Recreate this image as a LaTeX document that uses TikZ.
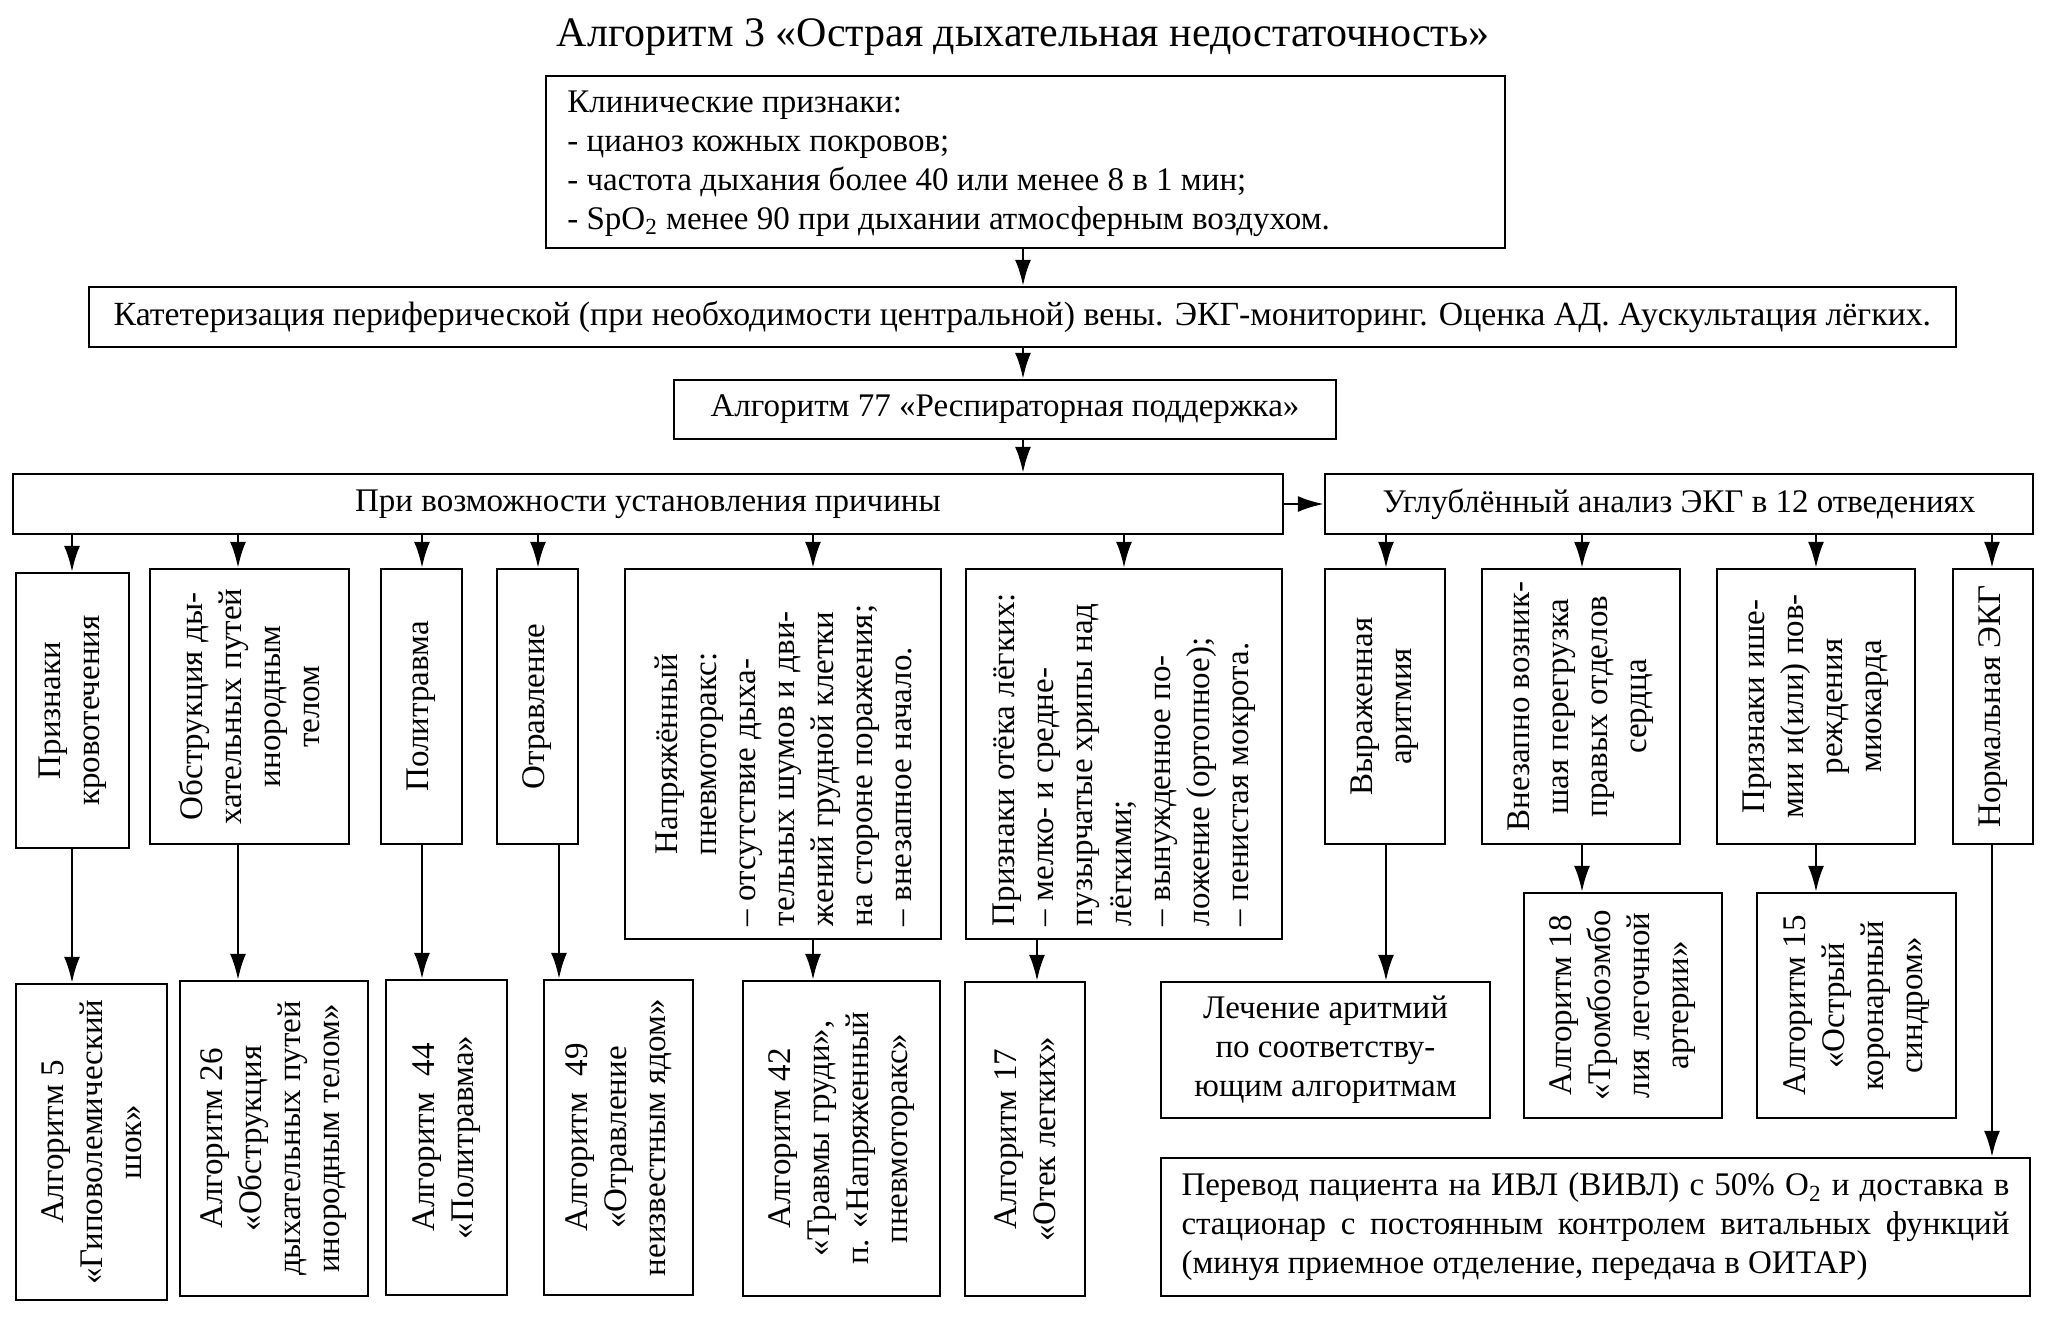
\documentclass[tikz,border=0pt]{standalone}
\usepackage{fontspec}
\setmainfont{Liberation Serif}
\usetikzlibrary{arrows.meta,fit}
\newcommand\bx[5]{\node[box,fit={(#2,#3) (#4,#5)}] (#1) {};}
\begin{document}
\begin{tikzpicture}[x=0.5pt,y=-0.5pt,
  box/.style={draw,line width=1.2pt,inner sep=0pt},
  txt/.style={font=\fontsize{16.5}{19.5}\selectfont, inner sep=0pt, align=center},
  vtxt/.style={txt, rotate=90},
  arr/.style={line width=1.2pt,-{Latex[length=13pt,width=8pt]}},
  ]
\useasboundingbox (0,0) rectangle (2047,1319);
\fill[white] (0,0) rectangle (2047,1319);

% title
\node[font=\fontsize{21}{25}\selectfont, inner sep=0pt] (title) at (1023,37) {Алгоритм 3 «Острая дыхательная недостаточность»};

% boxes
\bx{clin}{546}{76}{1505}{248}
\bx{cath}{89}{287}{1956}{347}
\bx{a77}{674}{380}{1336}{439}
\bx{pri}{13}{474}{1283}{534}
\bx{ugl}{1325}{474}{2033}{534}

\bx{krov}{16}{573}{129}{848}
\bx{obstr}{150}{569}{349}{844}
\bx{polit}{381}{569}{462}{844}
\bx{otrav}{497}{569}{578}{844}
\bx{pnev}{625}{569}{941}{939}
\bx{otek}{966}{569}{1282}{939}
\bx{aritm}{1325}{569}{1445}{844}
\bx{vnez}{1482}{569}{1680}{844}
\bx{ishem}{1717}{569}{1915}{844}
\bx{norm}{1953}{569}{2033}{844}

\bx{a5}{16}{984}{167}{1300}
\bx{a26}{180}{981}{368}{1296}
\bx{a44}{386}{980}{507}{1295}
\bx{a49}{544}{980}{693}{1295}
\bx{a42}{743}{981}{940}{1296}
\bx{a17}{965}{982}{1085}{1296}
\bx{lech}{1161}{982}{1490}{1118}
\bx{a18}{1524}{893}{1722}{1118}
\bx{a15}{1757}{893}{1956}{1118}
\bx{perevod}{1161}{1158}{2030}{1296}

% texts
\node[txt, align=left, anchor=west] (clin-t) at (567,164) {Клинические признаки:\\- цианоз кожных покровов;\\- частота дыхания более 40 или менее 8 в 1 мин;\\- SpO\textsubscript{2} менее 90 при дыхании атмосферным воздухом.};
\node[txt, font=\fontsize{16.9}{19.5}\selectfont] (cath-t) at (cath.center) {Катетеризация периферической (при необходимости центральной) вены. ЭКГ-мониторинг. Оценка АД. Аускультация лёгких.};
\node[txt] (a77-t) at (a77.center) {Алгоритм 77 «Респираторная поддержка»};
\node[txt] (pri-t) at (pri.center) {При возможности установления причины};
\node[txt] (ugl-t) at (ugl.center) {Углублённый анализ ЭКГ в 12 отведениях};

\node[vtxt] (krov-t) at (krov.center) {Признаки\\кровотечения};
\node[vtxt] (obstr-t) at (obstr.center) {Обструкция ды-\\хательных путей\\инородным\\телом};
\node[vtxt] (polit-t) at (polit.center) {Политравма};
\node[vtxt] (otrav-t) at (otrav.center) {Отравление};
\node[vtxt] (pnev-t) at (pnev.center) {\parbox{172pt}{\centering Напряжённый\\пневмоторакс:\par\raggedright – отсутствие дыха-\\тельных шумов и дви-\\жений грудной клетки\\на стороне поражения;\\– внезапное начало.}};
\node[vtxt] (otek-t) at (otek.center) {\parbox{172pt}{\raggedright Признаки отёка лёгких:\\– мелко- и средне-\\пузырчатые хрипы над\\лёгкими;\\– вынужденное по-\\ложение (ортопное);\\– пенистая мокрота.}};
\node[vtxt] (aritm-t) at (aritm.center) {Выраженная\\аритмия};
\node[vtxt] (vnez-t) at (vnez.center) {Внезапно возник-\\шая перегрузка\\правых отделов\\сердца};
\node[vtxt] (ishem-t) at (ishem.center) {Признаки ише-\\мии и(или) пов-\\реждения\\миокарда};
\node[vtxt] (norm-t) at (norm.center) {Нормальная ЭКГ};

\node[vtxt] (a5-t) at (a5.center) {Алгоритм 5\\«Гиповолемический\\шок»};
\node[vtxt] (a26-t) at (a26.center) {Алгоритм 26\\«Обструкция\\дыхательных путей\\инородным телом»};
\node[vtxt] (a44-t) at (a44.center) {Алгоритм\ \ 44\\«Политравма»};
\node[vtxt] (a49-t) at (a49.center) {Алгоритм\ \ 49\\«Отравление\\неизвестным ядом»};
\node[vtxt] (a42-t) at (a42.center) {Алгоритм 42\\«Травмы груди»,\\п. «Напряженный\\пневмоторакс»};
\node[vtxt] (a17-t) at (a17.center) {Алгоритм 17\\«Отек легких»};
\node[txt] (lech-t) at (lech.center) {Лечение аритмий\\по соответству-\\ющим алгоритмам};
\node[vtxt] (a18-t) at (a18.center) {Алгоритм 18\\«Тромбоэмбо\\лия легочной\\артерии»};
\node[vtxt] (a15-t) at (a15.center) {Алгоритм 15\\«Острый\\коронарный\\синдром»};
\node[txt, align=left] (perevod-t) at (perevod.center) {\makebox[414pt][s]{Перевод пациента на ИВЛ (ВИВЛ) с 50\% O\textsubscript{2} и доставка в}\\\makebox[414pt][s]{стационар с постоянным контролем витальных функций}\\(минуя приемное отделение, передача в ОИТАР)};

% connector columns
\coordinate (XC) at (1023,0);
\coordinate (X1) at (72,0);
\coordinate (X2) at (238,0);
\coordinate (X3) at (422,0);
\coordinate (X4) at (538,0);
\coordinate (X4b) at (559,0);
\coordinate (X5) at (813,0);
\coordinate (X6) at (1124,0);
\coordinate (X6b) at (1037,0);
\coordinate (X7) at (1386,0);
\coordinate (X8) at (1582,0);
\coordinate (X9) at (1816,0);
\coordinate (X10) at (1992,0);

% arrows
\draw[arr] (clin.south -| XC) -- (cath.north -| XC);
\draw[arr] (cath.south -| XC) -- (a77.north -| XC);
\draw[arr] (a77.south -| XC) -- (pri.north -| XC);
\draw[arr] (pri.east) -- (ugl.west);

\draw[arr] (pri.south -| X1) -- (krov.north -| X1);
\draw[arr] (pri.south -| X2) -- (obstr.north -| X2);
\draw[arr] (pri.south -| X3) -- (polit.north -| X3);
\draw[arr] (pri.south -| X4) -- (otrav.north -| X4);
\draw[arr] (pri.south -| X5) -- (pnev.north -| X5);
\draw[arr] (pri.south -| X6) -- (otek.north -| X6);
\draw[arr] (ugl.south -| X7) -- (aritm.north -| X7);
\draw[arr] (ugl.south -| X8) -- (vnez.north -| X8);
\draw[arr] (ugl.south -| X9) -- (ishem.north -| X9);
\draw[arr] (ugl.south -| X10) -- (norm.north -| X10);

\draw[arr] (krov.south -| X1) -- (a5.north -| X1);
\draw[arr] (obstr.south -| X2) -- (a26.north -| X2);
\draw[arr] (polit.south -| X3) -- (a44.north -| X3);
\draw[arr] (otrav.south -| X4b) -- (a49.north -| X4b);
\draw[arr] (pnev.south -| X5) -- (a42.north -| X5);
\draw[arr] (otek.south -| X6b) -- (a17.north -| X6b);
\draw[arr] (aritm.south -| X7) -- (lech.north -| X7);
\draw[arr] (vnez.south -| X8) -- (a18.north -| X8);
\draw[arr] (ishem.south -| X9) -- (a15.north -| X9);
\draw[arr] (norm.south -| X10) -- (perevod.north -| X10);
\end{tikzpicture}
\end{document}
